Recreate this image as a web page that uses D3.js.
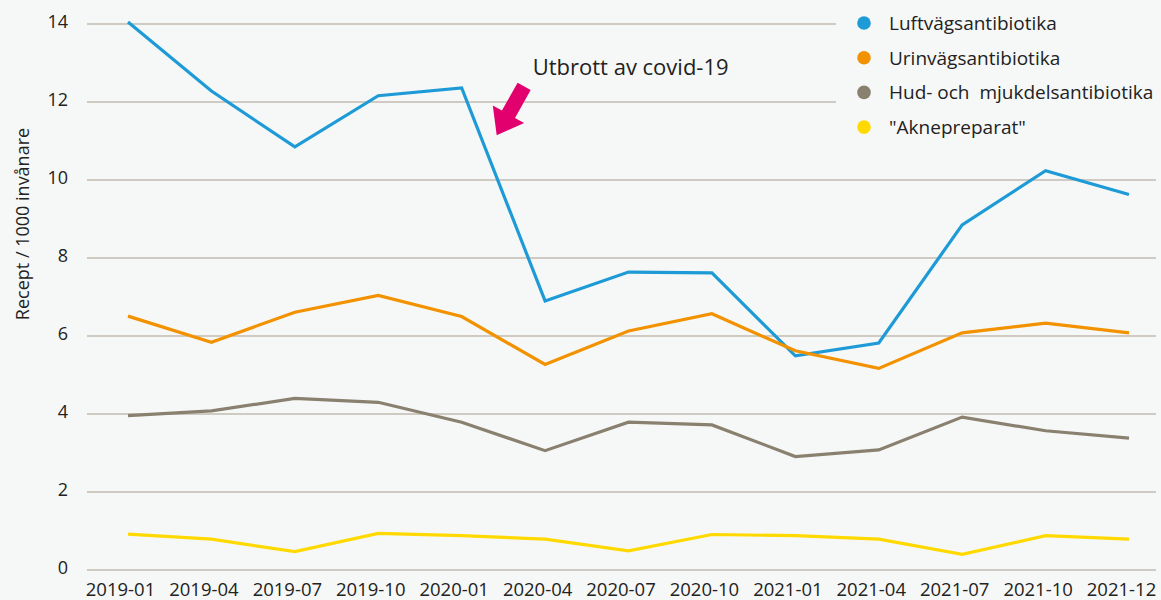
<!DOCTYPE html>
<html>
<head>
<meta charset="utf-8">
<script src="https://cdn.jsdelivr.net/npm/d3@7/dist/d3.min.js"></script>
<style>
  html, body { margin: 0; padding: 0; background: #f6f8f7; }
  svg { display: block; font-family: "Open Sans", "Noto Sans", sans-serif; }
</style>
</head>
<body>
<svg id="chart" width="1161" height="600"></svg>
<script>
const categories = ["2019-01","2019-04","2019-07","2019-10","2020-01","2020-04","2020-07","2020-10","2021-01","2021-04","2021-07","2021-10","2021-12"];
const luftvag  = [14.05, 12.28, 10.85, 12.16, 12.36, 6.90, 7.64, 7.62, 5.49, 5.82, 8.85, 10.24, 9.63];
const urinvag  = [6.51, 5.84, 6.61, 7.04, 6.50, 5.27, 6.13, 6.57, 5.62, 5.17, 6.08, 6.33, 6.08];
const hud      = [3.96, 4.08, 4.40, 4.30, 3.79, 3.06, 3.79, 3.72, 2.91, 3.08, 3.92, 3.57, 3.38];
const akne     = [0.92, 0.79, 0.47, 0.94, 0.88, 0.79, 0.49, 0.91, 0.88, 0.79, 0.40, 0.88, 0.79];
const seriesNames = ["Luftvägsantibiotika", "Urinvägsantibiotika", "Hud- och  mjukdelsantibiotika", "\"Aknepreparat\""];
const seriesColors = ["#1e9bd7", "#f39200", "#8a8070", "#ffd900"];
const yTicks = [0, 2, 4, 6, 8, 10, 12, 14];
const yLabel = "Recept / 1000 invånare";
const annotationText = "Utbrott av covid-19";

const seriesValues = [luftvag, urinvag, hud, akne];

const svg = d3.select("#chart");
const W = 1161, H = 600;
const plot = { left: 87, right: 1156, top: 24, bottom: 570 };

const x = d3.scalePoint().domain(categories).range([128, 1129]);
const y = d3.scaleLinear().domain([0, 14]).range([plot.bottom, plot.top]);

// gridlines
svg.append("g").selectAll("line").data(yTicks).join("line")
  .attr("x1", plot.left).attr("x2", plot.right)
  .attr("y1", d => y(d)).attr("y2", d => y(d))
  .attr("stroke", "#c2bbb0").attr("stroke-width", 1.3);

// y axis labels
const yAxis = d3.axisLeft(y).tickValues(yTicks).tickSize(0).tickPadding(0).tickFormat(d3.format("d"));
const gy = svg.append("g").attr("transform", "translate(68,0)").call(yAxis);
gy.select(".domain").remove();
gy.selectAll("text").attr("font-size", 18).attr("fill", "#222").attr("font-family", "\"Open Sans\", sans-serif").attr("dy", "0.2em");

// x axis labels
const xAxis = d3.axisBottom(x).tickSize(0).tickPadding(0);
const gx = svg.append("g").attr("transform", `translate(0,${plot.bottom})`).call(xAxis);
gx.select(".domain").remove();
gx.selectAll("text").attr("font-size", 18.5).attr("fill", "#222").attr("font-family", "\"Open Sans\", sans-serif")
  .attr("dy", null).attr("y", 26).attr("dx", -8);

// y axis title
svg.append("text")
  .attr("transform", `translate(29,${(plot.top + plot.bottom) / 2 - 73}) rotate(-90)`)
  .attr("text-anchor", "middle")
  .attr("font-size", 18).attr("fill", "#222")
  .text(yLabel);

// lines
const line = d3.line().x((d, i) => x(categories[i])).y(d => y(d));
svg.append("g").selectAll("path").data(seriesValues).join("path")
  .attr("d", d => line(d))
  .attr("fill", "none")
  .attr("stroke", (d, i) => seriesColors[i])
  .attr("stroke-width", 3.2)
  .attr("stroke-linejoin", "miter")
  .attr("stroke-linecap", "butt");

// legend background
svg.append("rect").attr("x", 836).attr("y", 0).attr("width", W - 836).attr("height", 150).attr("fill", "#f6f8f7");
const leg = svg.append("g").selectAll("g").data(seriesNames).join("g")
  .attr("transform", (d, i) => `translate(864,${23 + i * 34.7})`);
leg.append("circle").attr("r", 6.8).attr("fill", (d, i) => seriesColors[i]);
leg.append("text").attr("x", 25).attr("dy", "0.36em").attr("font-size", 19).attr("fill", "#222")
  .attr("xml:space", "preserve").style("white-space", "pre")
  .text(d => d);

// annotation
const ax = x("2020-01"), bx = x("2020-04");
const tipX = ax + (bx - ax) * 0.42, tipY = y(11.15);
svg.append("text").attr("x", tipX + 36).attr("y", tipY - 60).attr("font-size", 22).attr("fill", "#222").text(annotationText);

// arrow polygon in local coords (pointing along +x), then rotate
const arrowLen = 56, shaftW = 15, headW = 36, headL = 24;
const pts = [
  [0, 0], [-headL, -headW / 2], [-headL, -shaftW / 2], [-arrowLen, -shaftW / 2],
  [-arrowLen, shaftW / 2], [-headL, shaftW / 2], [-headL, headW / 2]
];
svg.append("polygon")
  .attr("points", pts.map(p => p.join(",")).join(" "))
  .attr("transform", `translate(${tipX},${tipY}) rotate(${Math.atan2(48, -27) * 180 / Math.PI})`)
  .attr("fill", "#e2006f");
</script>
</body>
</html>
